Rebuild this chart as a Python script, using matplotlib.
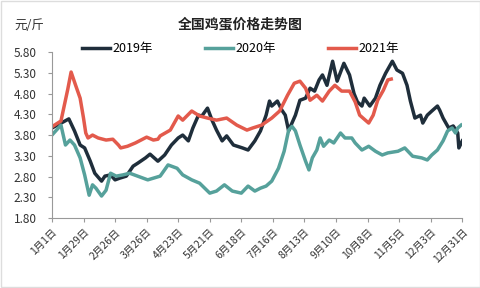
import numpy as np
import matplotlib
matplotlib.use("Agg")
import matplotlib.pyplot as plt
from matplotlib.patches import Rectangle

plt.rcParams['font.family'] = ['Noto Sans CJK SC', 'DejaVu Sans']

# === DATA (day of year, price yuan/jin) ===
days_2019 = [0, 15, 20, 25, 29, 34, 38, 44, 47, 52, 56, 60, 66, 72, 76, 83, 87, 94,
             100, 106, 112, 116, 121, 125, 130, 133, 138, 142, 146, 151, 155, 161,
             169, 174, 180, 185, 190, 193, 195, 200, 204, 207, 210, 211, 216, 220,
             225, 229, 233, 237, 240, 244, 249, 253, 259, 264, 268, 271, 275, 277,
             282, 287, 291, 296, 302, 306, 311, 315, 318, 322, 327, 329, 333, 337,
             342, 344, 347, 352, 356, 360, 361, 364]
price_2019 = [3.97, 4.19, 3.90, 3.56, 3.49, 3.17, 2.88, 2.69, 2.81, 2.84, 2.72, 2.76,
              2.81, 3.05, 3.12, 3.25, 3.34, 3.17, 3.32, 3.56, 3.73, 3.80, 3.66, 3.97,
              4.28, 4.26, 4.45, 4.16, 3.92, 3.66, 3.78, 3.56, 3.49, 3.44, 3.66, 3.90,
              4.28, 4.62, 4.50, 4.62, 4.40, 4.28, 3.90, 3.97, 4.28, 4.64, 4.69, 4.93,
              4.86, 5.13, 5.25, 5.00, 5.58, 5.10, 5.53, 5.25, 4.80, 4.60, 4.50, 4.69,
              4.50, 4.69, 5.00, 5.29, 5.58, 5.37, 5.29, 5.00, 4.62, 4.21, 4.28, 4.09,
              4.28, 4.38, 4.50, 4.40, 4.21, 3.97, 4.02, 3.85, 3.49, 3.66]

days_2020 = [0, 8, 12, 16, 20, 25, 29, 33, 36, 39, 44, 48, 52, 57, 63, 69, 76, 85,
             96, 103, 111, 116, 124, 131, 140, 146, 153, 160, 168, 174, 180, 185,
             190, 195, 201, 206, 210, 213, 216, 220, 225, 228, 231, 235, 238, 241,
             246, 250, 256, 260, 266, 269, 275, 281, 287, 293, 298, 307, 313, 320,
             328, 333, 337, 342, 347, 351, 355, 358, 360, 363]
price_2020 = [3.80, 4.04, 3.56, 3.68, 3.56, 3.25, 2.84, 2.35, 2.60, 2.52, 2.33, 2.47,
              2.88, 2.81, 2.84, 2.88, 2.81, 2.72, 2.81, 3.08, 3.00, 2.84, 2.72, 2.64,
              2.40, 2.45, 2.60, 2.45, 2.40, 2.57, 2.45, 2.52, 2.57, 2.69, 3.00, 3.41,
              3.92, 4.01, 3.90, 3.56, 3.17, 2.96, 3.25, 3.44, 3.73, 3.53, 3.68, 3.61,
              3.85, 3.73, 3.73, 3.61, 3.44, 3.53, 3.41, 3.32, 3.37, 3.41, 3.49, 3.29,
              3.25, 3.20, 3.32, 3.44, 3.66, 3.90, 3.97, 3.85, 3.97, 4.04]

days_2021 = [0, 8, 14, 17, 21, 25, 28, 30, 32, 36, 41, 48, 54, 59, 61, 67, 74, 79,
             84, 90, 94, 96, 105, 112, 116, 124, 131, 138, 146, 155, 164, 173, 178,
             186, 195, 202, 209, 215, 220, 225, 229, 235, 240, 246, 251, 257, 264,
             269, 273, 281, 285, 289, 294, 298, 301]
price_2021 = [4.00, 4.14, 4.90, 5.32, 5.00, 4.69, 4.21, 3.85, 3.73, 3.80, 3.73, 3.68,
              3.70, 3.56, 3.49, 3.53, 3.61, 3.68, 3.75, 3.68, 3.70, 3.78, 3.92, 4.26,
              4.16, 4.38, 4.26, 4.21, 4.16, 4.21, 4.04, 3.92, 3.97, 4.04, 4.21, 4.38,
              4.76, 5.05, 5.10, 4.93, 4.64, 4.76, 4.62, 4.86, 5.00, 4.86, 4.86, 4.60,
              4.28, 4.09, 4.28, 4.64, 4.88, 5.13, 5.15]

tick_days = [0, 28, 56, 84, 112, 140, 168, 196, 224, 252, 280, 308, 336, 364]
tick_labels = ['1月1日', '1月29日', '2月26日', '3月26日', '4月23日', '5月21日', '6月18日',
               '7月16日', '8月13日', '9月10日', '10月8日', '11月5日', '12月3日', '12月31日']
y_ticks = [1.80, 2.30, 2.80, 3.30, 3.80, 4.30, 4.80, 5.30, 5.80]

# === PLOT ===
fig = plt.figure(figsize=(4.81, 2.88), dpi=100)
ax = fig.add_axes([0.108, 0.243, 0.853, 0.576])

ax.plot(days_2019, price_2019, color='#1f2e3b', lw=2.5, label='2019年')
ax.plot(days_2020, price_2020, color='#56a19b', lw=2.5, label='2020年')
ax.plot(days_2021, price_2021, color='#e35a4c', lw=2.5, label='2021年')

ax.set_xlim(0, 364)
ax.set_ylim(1.8, 5.8)
ax.set_yticks(y_ticks)
ax.set_yticklabels([f'{v:.2f}' for v in y_ticks], fontsize=8.5, color='#333333')
ax.set_xticks(tick_days)
ax.set_xticklabels(tick_labels, rotation=45, ha='right', rotation_mode='anchor',
                   fontsize=7.5, color='#333333')
ax.tick_params(axis='both', length=3, color='#999999', width=0.8)
ax.tick_params(axis='y', pad=8)

for side in ['top', 'right']:
    ax.spines[side].set_visible(False)
for side in ['left', 'bottom']:
    ax.spines[side].set_color('#999999')
    ax.spines[side].set_linewidth(0.8)

fig.text(0.5, 0.915, '全国鸡蛋价格走势图', ha='center', va='center',
         fontsize=10, fontweight='bold', color='#222222')
fig.text(0.03, 0.91, '元/斤', ha='left', va='center', fontsize=9, color='#333333')

fig.legend(loc='center', bbox_to_anchor=(0.5, 0.83), ncol=3, frameon=False,
           fontsize=9, handlelength=2.2, handletextpad=0.2, columnspacing=4.2)

# faint frame round the picture
fig.patches.append(Rectangle((0.002, 0.003), 0.996, 0.994, transform=fig.transFigure,
                             fill=False, edgecolor='#dddddd', lw=1))

fig.savefig('out.png', dpi=100)
